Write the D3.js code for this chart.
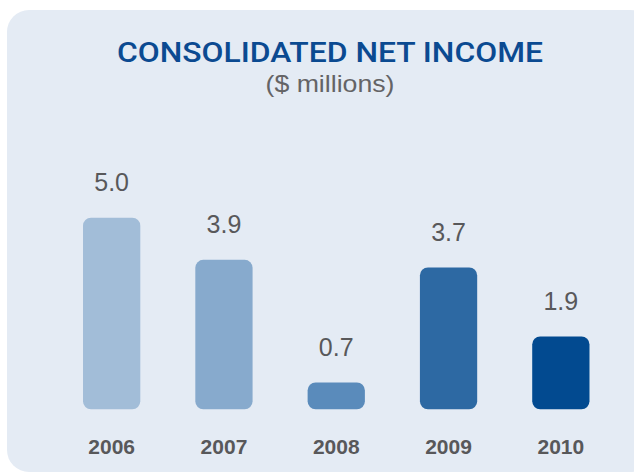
<!DOCTYPE html>
<html>
<head>
<meta charset="utf-8">
<script src="https://cdn.jsdelivr.net/npm/d3@7"></script>
<style>
  html, body { margin: 0; padding: 0; background: #ffffff; }
  svg { display: block; }
</style>
</head>
<body>
<svg id="chart" width="634" height="473"></svg>
<script>
// Consolidated net income by year, $ millions
const years = ["2006", "2007", "2008", "2009", "2010"];
const netIncome = [5.0, 3.9, 0.7, 3.7, 1.9];
const barColors = ["#a2bdd8", "#87aacd", "#5a8bbb", "#2d69a3", "#024a90"];

const svg = d3.select("#chart");

// Rounded background card
svg.append("rect")
  .attr("x", 7).attr("y", 10)
  .attr("width", 645).attr("height", 462)
  .attr("rx", 22).attr("ry", 22)
  .attr("fill", "#e4ebf4");

// Title block
svg.append("text")
  .attr("x", 330).attr("y", 62)
  .attr("text-anchor", "middle")
  .attr("font-family", "Roboto, 'Liberation Sans', Arial, sans-serif")
  .attr("font-weight", 500)
  .attr("font-size", 28.5)
  .attr("textLength", 426)
  .attr("lengthAdjust", "spacingAndGlyphs")
  .attr("fill", "#0b4a91")
  .text("CONSOLIDATED NET INCOME");

svg.append("text")
  .attr("x", 330).attr("y", 92)
  .attr("text-anchor", "middle")
  .attr("font-family", "'Liberation Sans', Arial, sans-serif")
  .attr("font-size", 24)
  .attr("textLength", 129)
  .attr("lengthAdjust", "spacingAndGlyphs")
  .attr("fill", "#646466")
  .text("($ millions)");

// Scales
const x = d3.scaleBand()
  .domain(years)
  .range([55.5, 617])
  .paddingInner(0.49)
  .paddingOuter(0.245);

const baseline = 409.3;
const y = d3.scaleLinear()
  .domain([0, 5])
  .range([baseline, 217.7]);

const data = years.map((yr, i) => ({ year: yr, value: netIncome[i], color: barColors[i] }));

// Bars
svg.append("g").selectAll("rect")
  .data(data)
  .join("rect")
  .attr("x", d => x(d.year))
  .attr("y", d => y(d.value))
  .attr("width", x.bandwidth())
  .attr("height", d => baseline - y(d.value))
  .attr("rx", 8).attr("ry", 8)
  .attr("fill", d => d.color);

// Value labels above bars
svg.append("g").selectAll("text")
  .data(data)
  .join("text")
  .attr("x", d => x(d.year) + x.bandwidth() / 2)
  .attr("y", d => y(d.value) - 26.5)
  .attr("text-anchor", "middle")
  .attr("font-family", "'Liberation Sans', Arial, sans-serif")
  .attr("font-size", 25)
  .attr("fill", "#58585a")
  .text(d => d.value.toFixed(1));

// Year axis labels
const xAxis = d3.axisBottom(x).tickSize(0).tickPadding(0);
const axisG = svg.append("g")
  .attr("transform", `translate(0, ${baseline})`)
  .call(xAxis);
axisG.select(".domain").remove();
axisG.selectAll("text")
  .attr("y", 44.5)
  .attr("dy", null)
  .attr("font-family", "'Liberation Sans', Arial, sans-serif")
  .attr("font-weight", "bold")
  .attr("font-size", 21)
  .attr("fill", "#58585a");
</script>
</body>
</html>
